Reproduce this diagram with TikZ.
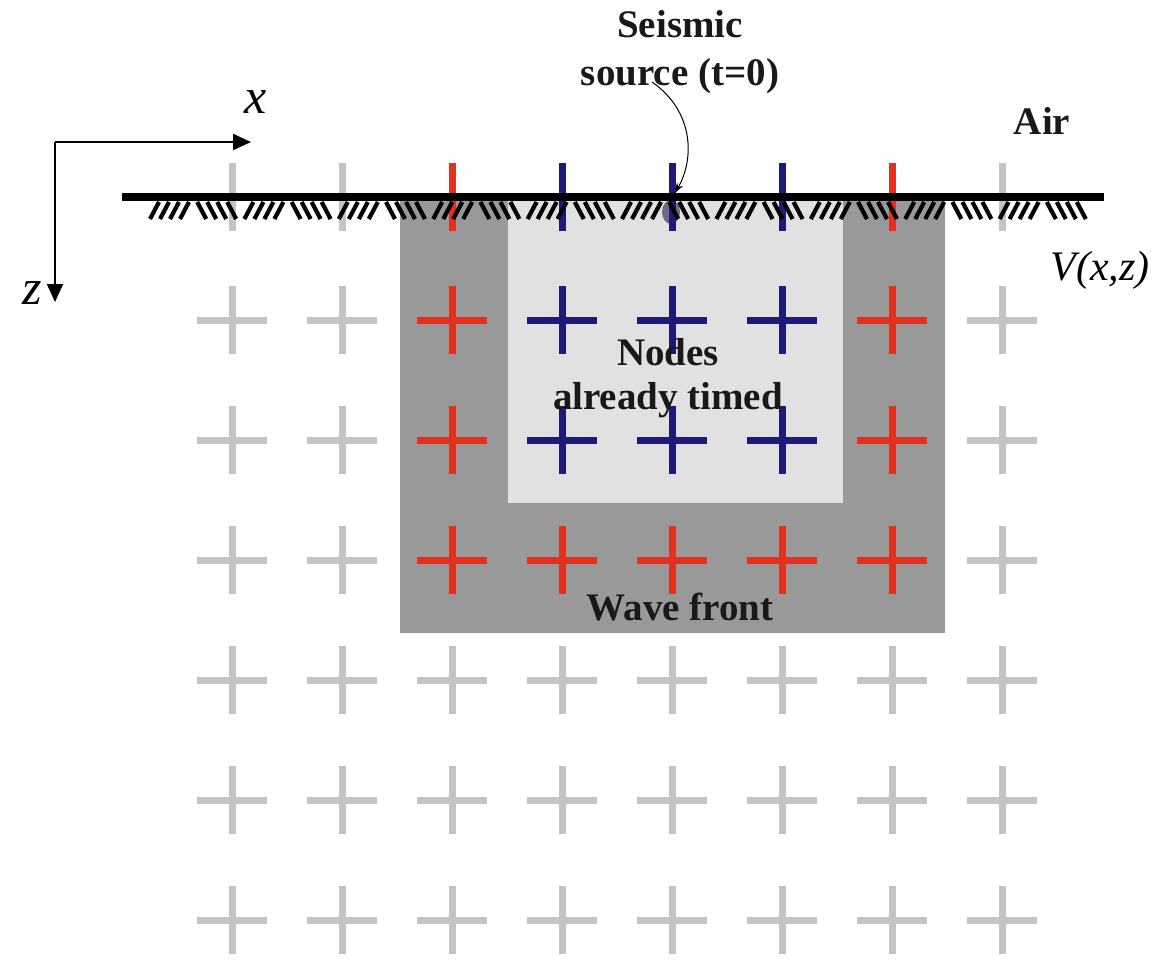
\documentclass[tikz,border=0pt]{standalone}
\usepackage{fontspec}
\setmainfont{Liberation Serif}
\usepackage{tikz}
\usetikzlibrary{arrows.meta,shapes.geometric}
\definecolor{nodegray}{HTML}{C4C4C4}
\definecolor{frontred}{HTML}{E2311F}
\definecolor{timedblue}{HTML}{1E1B78}
\definecolor{frontshade}{HTML}{999999}
\definecolor{timedshade}{HTML}{E1E1E1}
\definecolor{sourcegray}{HTML}{6C6C7E}

\begin{document}
\begin{tikzpicture}[
  x=1pt, y=-1pt,
  >=Stealth,
  labelbold/.style={
    font=\fontsize{39}{44}\selectfont\bfseries,
    text=black!90,
    inner sep=0pt,
    align=center
  },
  labelital/.style={
    font=\fontsize{50}{60}\selectfont\itshape,
    inner sep=0pt
  },
  gridcross/.style={
    line width=7pt,
    line cap=butt
  },
  axisarrow/.style={
    -{Triangle[length=18pt,width=16pt]},
    line width=2pt
  },
  hatchline/.style={
    line width=4.2pt
  }
]
  \useasboundingbox (0,0) rectangle (1164,959);

  % ----------------------------------------------------
  % SHADED ZONES: WAVE FRONT AND TIMED NODES
  % ----------------------------------------------------
  \fill[frontshade] (400,200) rectangle (945,633);
  \fill[timedshade] (508,200) rectangle (843,503);

  \node[ellipse, fill=sourcegray, minimum width=18pt, minimum height=24pt, inner sep=0pt] (src) at (671,212) {};

  % ----------------------------------------------------
  % GRID OF NODES
  % ----------------------------------------------------
  \foreach \r in {0,...,6}{
    \foreach \c in {1,...,8}{
      \def\crosscol{nodegray}
      \ifnum\r<4 \ifnum\c>2 \ifnum\c<8 \def\crosscol{frontred}\fi\fi\fi
      \ifnum\r<3 \ifnum\c>3 \ifnum\c<7 \def\crosscol{timedblue}\fi\fi\fi
      \pgfmathsetmacro{\cy}{\r==0 ? 197 : 200+120*\r}
      \draw[gridcross, draw=\crosscol, shift={({122+110*\c},\cy)}]
        (-35,0) -- (35,0) (0,-34) -- (0,34);
    }
  }

  % ----------------------------------------------------
  % GROUND SURFACE
  % ----------------------------------------------------
  \coordinate (gnd_w) at (122,197);
  \coordinate (gnd_e) at (1104,197);
  \draw[line width=8.5pt] (gnd_w) -- (gnd_e);

  \foreach \k in {0,...,19}{
    \pgfmathsetmacro{\hx}{150+47.2*\k}
    \foreach \s in {0,...,3}{
      \ifodd\k
        \draw[hatchline] ({\hx+10*\s},202) -- ({\hx+10*\s+9},219);
      \else
        \draw[hatchline] ({\hx+10*\s},219) -- ({\hx+10*\s+9},202);
      \fi
    }
  }

  % ----------------------------------------------------
  % AXES
  % ----------------------------------------------------
  \coordinate (origin) at (55,142);
  \coordinate (x_end) at (251,142);
  \coordinate (z_end) at (55,302);
  \draw[axisarrow] (origin) -- (x_end);
  \draw[axisarrow] (origin) -- (z_end);

  \node[labelital, anchor=base] (x_lbl) at (256,113) {x};
  \node[labelital, anchor=base] (z_lbl) at (32,304) {z};
  \node[labelital, font=\fontsize{42}{50}\selectfont\itshape, anchor=base] (v_lbl) at (1100,280) {V(x,z)};

  % ----------------------------------------------------
  % LABELS
  % ----------------------------------------------------
  \node[labelbold] (src_lbl) at (680,52) {Seismic\\[4pt]source (t=0)};
  \node[labelbold, anchor=base] (air_lbl) at (1042,134) {Air};
  \node[labelbold] (timed_lbl) at (668,378) {Nodes\\already timed};
  \node[labelbold, anchor=base] (front_lbl) at (680,620) {Wave front};

  \coordinate (src_tail) at (652,82);
  \draw[-{Stealth[length=10pt,width=7pt]}, line width=1pt, shorten >=8pt]
    (src_tail) .. controls (695,112) and (694,160) .. (src.north);

\end{tikzpicture}
\end{document}
